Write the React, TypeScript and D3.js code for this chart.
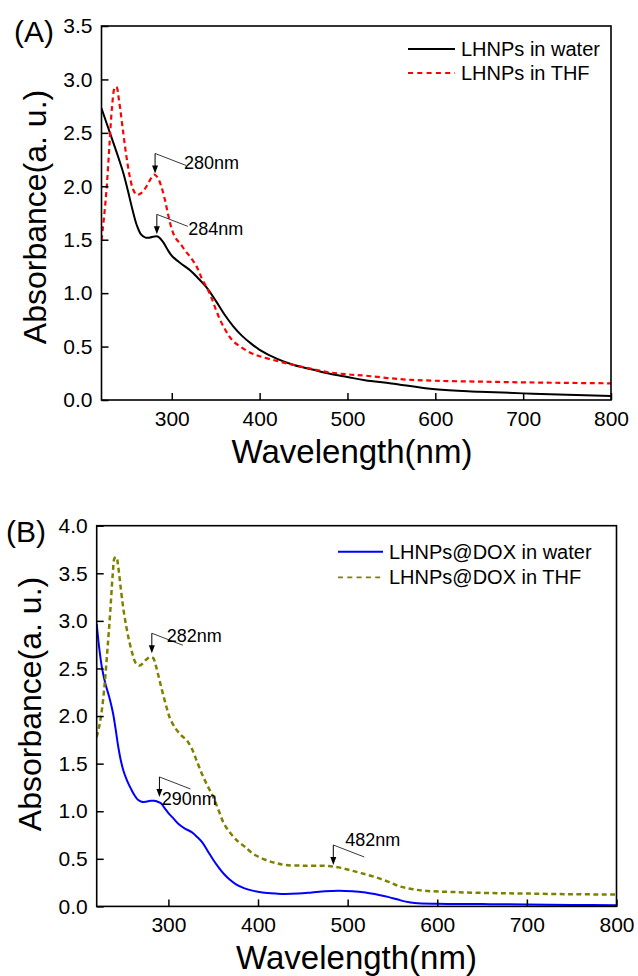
import React, { useRef, useEffect } from 'react';
import * as d3 from 'd3';

type Pt = [number, number];

const WIDTH = 638;
const HEIGHT = 976;
const FONT = "Arial, 'Liberation Sans', Helvetica, sans-serif";

// shared axis values
const xDomain: Pt = [220, 800];
const xTicks = [300, 400, 500, 600, 700, 800];
const yTicksA = [0, 0.5, 1, 1.5, 2, 2.5, 3, 3.5];
const yTicksB = [0, 0.5, 1, 1.5, 2, 2.5, 3, 3.5, 4];

const legendA = ['LHNPs in water', 'LHNPs in THF'];
const legendB = ['LHNPs@DOX in water', 'LHNPs@DOX in THF'];

// (A) wavelength (nm), absorbance (a. u.)
const lhnpsWater: Pt[] = [
  [220, 2.73], [230, 2.49], [240, 2.25], [245, 2.12], [250, 1.96], [255, 1.79],
  [260, 1.64], [265, 1.55], [270, 1.52], [275, 1.52], [280, 1.53], [284, 1.53],
  [290, 1.48], [295, 1.41], [300, 1.35], [310, 1.28], [320, 1.22], [330, 1.14],
  [340, 1.05], [350, 0.93], [360, 0.80], [370, 0.69], [380, 0.60], [390, 0.53],
  [400, 0.47], [420, 0.385], [440, 0.325], [460, 0.285], [480, 0.245], [500, 0.215],
  [520, 0.185], [550, 0.155], [600, 0.10], [650, 0.078], [700, 0.062], [750, 0.048],
  [800, 0.037],
];

const lhnpsTHF: Pt[] = [
  [220, 1.50], [223, 1.72], [226, 2.00], [229, 2.38], [232, 2.74], [235, 2.92],
  [237, 2.93], [240, 2.80], [244, 2.55], [248, 2.30], [252, 2.10], [256, 1.97],
  [260, 1.92], [264, 1.93], [268, 1.96], [272, 2.01], [276, 2.07], [280, 2.11],
  [284, 2.08], [288, 2.00], [292, 1.88], [296, 1.73], [300, 1.60], [304, 1.52],
  [310, 1.46], [315, 1.40], [320, 1.35], [326, 1.28], [330, 1.22], [334, 1.14],
  [340, 1.05], [345, 0.96], [350, 0.85], [355, 0.75], [360, 0.67], [365, 0.60],
  [370, 0.55], [378, 0.50], [390, 0.44], [400, 0.41], [420, 0.365], [440, 0.325],
  [460, 0.29], [480, 0.258], [500, 0.24], [520, 0.228], [560, 0.195], [600, 0.18],
  [650, 0.172], [700, 0.165], [750, 0.16], [800, 0.156],
];

// (B)
const doxWater: Pt[] = [
  [220, 2.97], [223, 2.70], [226, 2.50], [230, 2.33], [234, 2.20], [238, 2.04],
  [241, 1.87], [244, 1.68], [247, 1.53], [250, 1.42], [254, 1.32], [258, 1.24],
  [262, 1.17], [266, 1.12], [270, 1.10], [275, 1.10], [280, 1.11], [284, 1.11],
  [288, 1.10], [292, 1.08], [296, 1.03], [300, 0.98], [306, 0.92], [312, 0.86],
  [318, 0.82], [326, 0.78], [332, 0.73], [338, 0.67], [344, 0.58], [350, 0.49],
  [356, 0.41], [362, 0.34], [368, 0.285], [375, 0.235], [385, 0.19], [395, 0.163],
  [405, 0.147], [420, 0.135], [430, 0.13], [445, 0.135], [460, 0.147], [475, 0.16],
  [490, 0.165], [505, 0.16], [520, 0.145], [535, 0.12], [545, 0.10], [555, 0.075],
  [565, 0.05], [575, 0.035], [600, 0.027], [650, 0.024], [700, 0.02], [750, 0.016],
  [800, 0.012],
];

const doxTHF: Pt[] = [
  [220, 1.78], [223, 1.90], [226, 2.08], [229, 2.35], [232, 2.70], [235, 3.08],
  [238, 3.50], [240, 3.66], [242, 3.67], [244, 3.57], [247, 3.33], [250, 3.11],
  [253, 2.94], [256, 2.80], [260, 2.65], [264, 2.55], [268, 2.53], [272, 2.56],
  [276, 2.60], [280, 2.62], [283, 2.61], [286, 2.53], [290, 2.38], [294, 2.23],
  [298, 2.09], [302, 1.97], [308, 1.87], [314, 1.80], [320, 1.75], [326, 1.66],
  [332, 1.52], [338, 1.38], [344, 1.26], [350, 1.15], [356, 1.01], [362, 0.87],
  [370, 0.76], [378, 0.68], [385, 0.63], [395, 0.55], [408, 0.49], [420, 0.455],
  [430, 0.435], [450, 0.428], [476, 0.425], [490, 0.41], [503, 0.38], [515, 0.35],
  [530, 0.31], [545, 0.26], [558, 0.21], [570, 0.185], [585, 0.165], [620, 0.15],
  [660, 0.14], [700, 0.135], [750, 0.128], [800, 0.125],
];

// peak call-outs: arrow tip at (nm, abs)
const peaksA = [
  { label: '280nm', nm: 281, abs: 2.12 },
  { label: '284nm', nm: 283, abs: 1.55 },
];
const peaksB = [
  { label: '282nm', nm: 281.5, abs: 2.66 },
  { label: '290nm', nm: 290, abs: 1.15 },
  { label: '482nm', nm: 484, abs: 0.435 },
];

type Panel = {
  tag: string;
  box: { left: number; right: number; top: number; bottom: number };
  yMax: number;
  yTicks: number[];
  series: { data: Pt[]; color: string; width: number; dash: string | null }[];
  legend: string[];
  legendPos: { x1: number; x2: number; y: number; gap: number };
  peaks: { label: string; nm: number; abs: number }[];
  peakText: Pt[]; // label offset from top of arrow
  yTitle: { x: number; y: number };
  xTitle: { x: number; y: number };
  tagPos: Pt;
};

const panels: Panel[] = [
  {
    tag: '(A)',
    box: { left: 101.5, right: 611, top: 26, bottom: 400 },
    yMax: 3.5,
    yTicks: yTicksA,
    series: [
      { data: lhnpsWater, color: '#000000', width: 2, dash: null },
      { data: lhnpsTHF, color: '#ff0000', width: 2.2, dash: '5,3.6' },
    ],
    legend: legendA,
    legendPos: { x1: 408, x2: 455, y: 49, gap: 24 },
    peaks: peaksA,
    peakText: [[29, 16], [31.5, 21]],
    yTitle: { x: 46, y: 217 },
    xTitle: { x: 352, y: 463 },
    tagPos: [14, 42],
  },
  {
    tag: '(B)',
    box: { left: 96.7, right: 616.5, top: 525.7, bottom: 906.4 },
    yMax: 4,
    yTicks: yTicksB,
    series: [
      { data: doxWater, color: '#0000ff', width: 2, dash: null },
      { data: doxTHF, color: '#808000', width: 2.5, dash: '5,3.4' },
    ],
    legend: legendB,
    legendPos: { x1: 338, x2: 383, y: 551.7, gap: 25.6 },
    peaks: peaksB,
    peakText: [[15, 8.5], [2.4, 28], [12, 1.5]],
    yTitle: { x: 41, y: 704 },
    xTitle: { x: 356.5, y: 969 },
    tagPos: [6, 542],
  },
];

function drawPanel(svg: d3.Selection<SVGSVGElement, unknown, null, undefined>, p: Panel, idx: number) {
  const { left, right, top, bottom } = p.box;
  const x = d3.scaleLinear().domain(xDomain).range([left, right]);
  const y = d3.scaleLinear().domain([0, p.yMax]).range([bottom, top]);
  const g = svg.append('g');

  const clipId = `clip-${idx}`;
  g.append('clipPath').attr('id', clipId)
    .append('rect')
    .attr('x', left).attr('y', top)
    .attr('width', right - left).attr('height', bottom - top);

  // curves
  const line = d3.line<Pt>()
    .x(d => x(d[0]))
    .y(d => y(d[1]))
    .curve(d3.curveCatmullRom.alpha(0.5));

  p.series.forEach(s => {
    g.append('path')
      .attr('clip-path', `url(#${clipId})`)
      .attr('d', line(s.data))
      .attr('fill', 'none')
      .attr('stroke', s.color)
      .attr('stroke-width', s.width)
      .attr('stroke-dasharray', s.dash)
      .attr('stroke-linejoin', 'round');
  });

  // axes with inward ticks
  const xAxis = g.append('g')
    .attr('transform', `translate(0,${bottom})`)
    .call(d3.axisBottom(x).tickValues(xTicks).tickSizeInner(-7).tickSizeOuter(0).tickPadding(11)
      .tickFormat(d => String(d)));
  const yAxis = g.append('g')
    .attr('transform', `translate(${left},0)`)
    .call(d3.axisLeft(y).tickValues(p.yTicks).tickSizeInner(-7).tickSizeOuter(0).tickPadding(9)
      .tickFormat(d3.format('.1f')));

  [xAxis, yAxis].forEach(ax => {
    ax.select('.domain').remove();
    ax.selectAll('line').attr('stroke', '#000').attr('stroke-width', 1.5);
    ax.selectAll('text')
      .attr('fill', '#000')
      .style('font-family', FONT)
      .style('font-size', '21px');
  });

  // frame
  g.append('rect')
    .attr('x', left).attr('y', top)
    .attr('width', right - left).attr('height', bottom - top)
    .attr('fill', 'none')
    .attr('stroke', '#000')
    .attr('stroke-width', 1.6);

  // titles
  g.append('text')
    .attr('transform', `translate(${p.yTitle.x},${p.yTitle.y}) rotate(-90)`)
    .attr('text-anchor', 'middle')
    .style('font-family', FONT)
    .style('font-size', '32px')
    .text('Absorbance(a. u.)');

  g.append('text')
    .attr('x', p.xTitle.x).attr('y', p.xTitle.y)
    .attr('text-anchor', 'middle')
    .style('font-family', FONT)
    .style('font-size', '33px')
    .text('Wavelength(nm)');

  g.append('text')
    .attr('x', p.tagPos[0]).attr('y', p.tagPos[1])
    .style('font-family', FONT)
    .style('font-size', '30px')
    .text(p.tag);

  // legend
  const lp = p.legendPos;
  const leg = g.selectAll('g.legend-item')
    .data(p.legend)
    .enter()
    .append('g')
    .attr('class', 'legend-item')
    .attr('transform', (_, i) => `translate(0,${lp.y + i * lp.gap})`);

  leg.append('line')
    .attr('x1', lp.x1).attr('x2', lp.x2)
    .attr('stroke', (_, i) => p.series[i].color)
    .attr('stroke-width', (_, i) => (p.series[i].dash ? 1.8 : 2))
    .attr('stroke-dasharray', (_, i) => (p.series[i].dash ? '5,4.3' : null));

  leg.append('text')
    .attr('x', lp.x2 + 6)
    .attr('y', 7)
    .style('font-family', FONT)
    .style('font-size', '20px')
    .text(d => d);

  // peak call-outs
  p.peaks.forEach((pk, i) => {
    const tx = x(pk.nm);
    const ty = y(pk.abs);
    const topY = ty - 20;
    const a = g.append('g');
    a.append('line')
      .attr('x1', tx).attr('x2', tx)
      .attr('y1', topY).attr('y2', ty - 7)
      .attr('stroke', '#000').attr('stroke-width', 1);
    a.append('path')
      .attr('d', `M${tx - 3},${ty - 8}L${tx + 3},${ty - 8}L${tx},${ty}Z`)
      .attr('fill', '#000');
    a.append('line')
      .attr('x1', tx).attr('y1', topY)
      .attr('x2', tx + 31).attr('y2', topY + 12)
      .attr('stroke', '#222').attr('stroke-width', 0.9);
    a.append('text')
      .attr('x', tx + p.peakText[i][0])
      .attr('y', topY + p.peakText[i][1])
      .style('font-family', FONT)
      .style('font-size', '18px')
      .text(pk.label);
  });
}

export default function App() {
  const svgRef = useRef<SVGSVGElement>(null);

  useEffect(() => {
    const svg = d3.select(svgRef.current as SVGSVGElement)
      .attr('width', WIDTH)
      .attr('height', HEIGHT);

    svg.append('rect').attr('width', WIDTH).attr('height', HEIGHT).attr('fill', '#fff');
    panels.forEach((p, i) => drawPanel(svg, p, i));

    return () => {
      svg.selectAll('*').remove();
    };
  }, []);

  return (
    <svg
      ref={svgRef}
      style={{ position: 'absolute', left: 0, top: 0, display: 'block' }}
    />
  );
}
